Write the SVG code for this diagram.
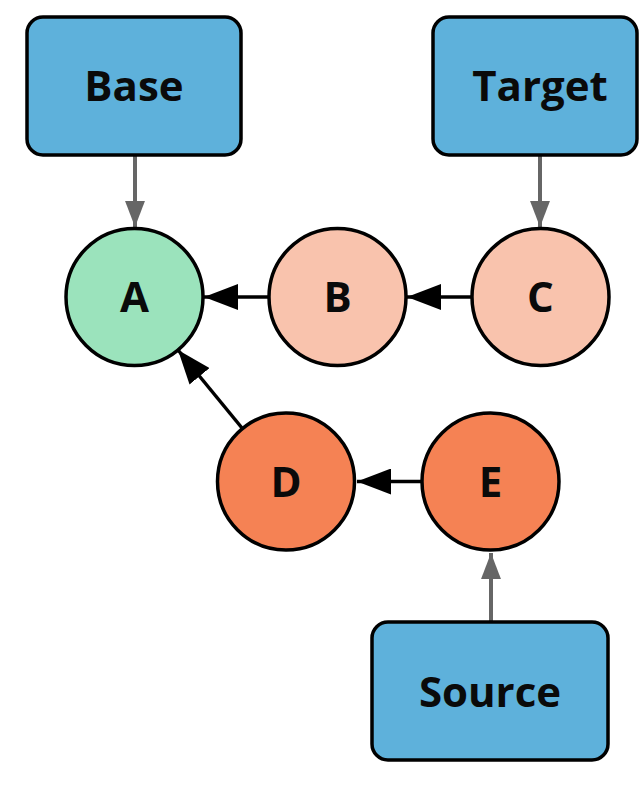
<svg xmlns="http://www.w3.org/2000/svg" width="639" height="786" viewBox="0 0 639 786">
<style>
.box{fill:#5EB1DB;stroke:#000;stroke-width:3.5}
.c{stroke:#000;stroke-width:3.5}
.t{font-family:"Open Sans","Noto Sans",sans-serif;font-weight:bold;font-size:42px;fill:#0a0a0a;text-anchor:middle}
.g{stroke:#666;stroke-width:4;fill:none}
.k{stroke:#000;stroke-width:3.5;fill:none}
</style>
<defs>
<marker id="ag" markerWidth="26" markerHeight="34" refX="34" refY="13" viewBox="0 0 34 26" orient="auto" markerUnits="userSpaceOnUse"><path d="M0,0 L34,13 L0,26 Z" fill="#666"/></marker>
<marker id="ak" markerWidth="34" markerHeight="26" refX="34" refY="13" viewBox="0 0 34 26" orient="auto" markerUnits="userSpaceOnUse"><path d="M0,0 L34,13 L0,26 Z" fill="#000"/></marker>
</defs>
<g id="connectors">
<line class="g" x1="135" y1="156" x2="135" y2="227" marker-end="url(#ag)"/>
<line class="g" x1="540" y1="156" x2="540" y2="227" marker-end="url(#ag)"/>
<line class="g" x1="491" y1="621" x2="491" y2="553" marker-end="url(#ag)"/>
<line class="k" x1="268" y1="297" x2="204" y2="297" marker-end="url(#ak)"/>
<line class="k" x1="471" y1="297" x2="407" y2="297" marker-end="url(#ak)"/>
<line class="k" x1="421" y1="481.5" x2="357" y2="481.5" marker-end="url(#ak)"/>
<line class="k" x1="242" y1="428" x2="178" y2="350" marker-end="url(#ak)"/>
</g>
<g id="Base"><rect class="box" x="27" y="17" width="214" height="138" rx="16"/><text class="t" x="134" y="101">Base</text></g>
<g id="Target"><rect class="box" x="433" y="17" width="204" height="138" rx="16"/><text class="t" x="540" y="101">Target</text></g>
<g id="Source"><rect class="box" x="372" y="622" width="236" height="138" rx="16"/><text class="t" x="490" y="707">Source</text></g>
<g id="A"><circle class="c" cx="134.5" cy="297" r="68.5" fill="#9BE3BC"/><text class="t" x="134.5" y="312">A</text></g>
<g id="B"><circle class="c" cx="337.5" cy="297" r="68.5" fill="#F9C3AD"/><text class="t" x="337.5" y="312">B</text></g>
<g id="C"><circle class="c" cx="540.5" cy="297" r="68.5" fill="#F9C3AD"/><text class="t" x="540.5" y="312">C</text></g>
<g id="D"><circle class="c" cx="286" cy="481.5" r="68.5" fill="#F58254"/><text class="t" x="286" y="497">D</text></g>
<g id="E"><circle class="c" cx="490.5" cy="481.5" r="68.5" fill="#F58254"/><text class="t" x="490.5" y="497">E</text></g>
</svg>
